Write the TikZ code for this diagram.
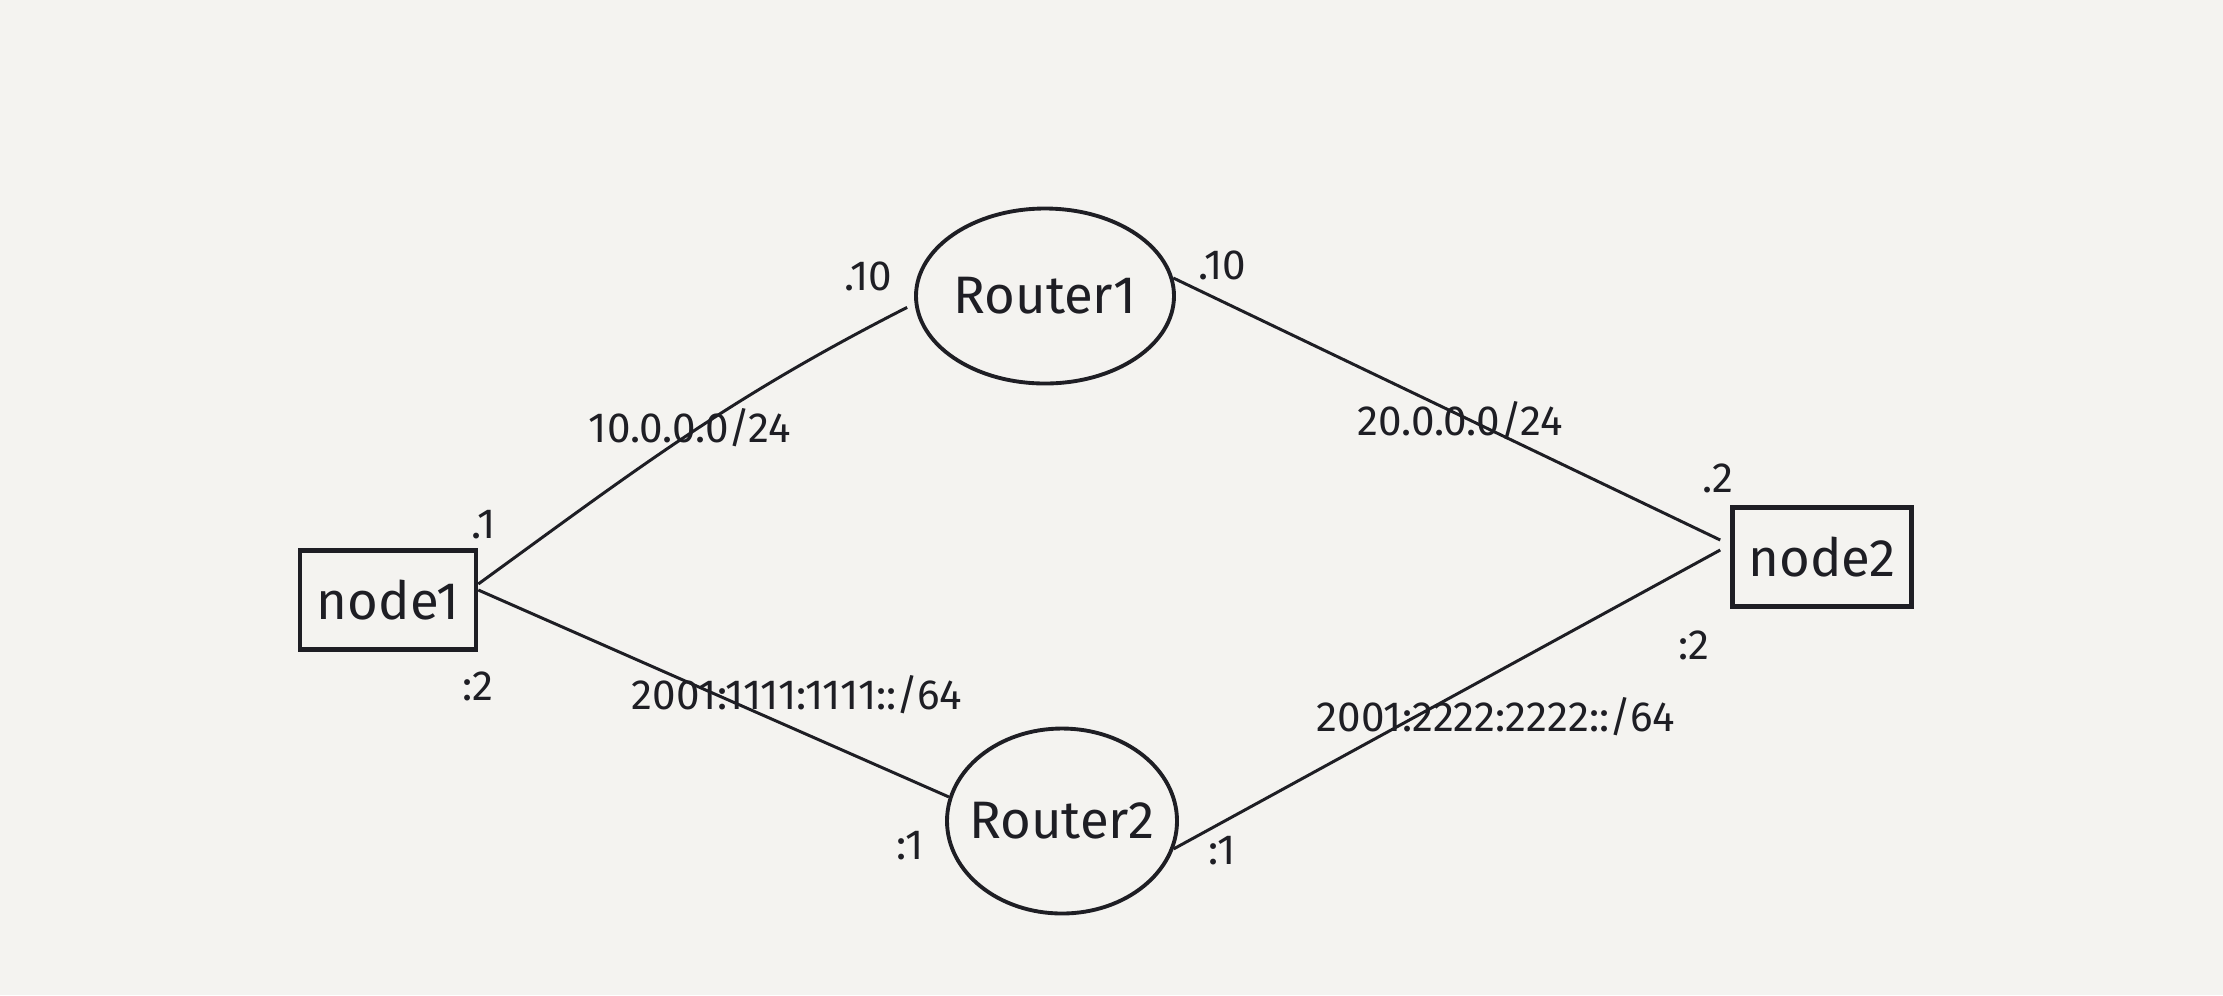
\documentclass[tikz,border=0pt]{standalone}
\usepackage{fontspec}
\setmainfont{Fira Sans}
\usepackage{tikz}
\usetikzlibrary{shapes.geometric, positioning, calc}

\definecolor{paper}{HTML}{F4F3F0}
\definecolor{ink}{HTML}{1E1E24}

\begin{document}
\begin{tikzpicture}[
    font=\fontsize{13}{15}\selectfont, text=ink,
    hostbox/.style={draw=ink, line width=1.3pt, rectangle, minimum height=0.99cm, inner sep=0pt},
    routerbox/.style={draw=ink, line width=1.1pt, ellipse, inner sep=-6pt},
    link/.style={draw=ink, line width=0.85pt},
    addr/.style={font=\fontsize{12}{14}\selectfont, inner sep=0pt}
  ]
  \fill[paper] (0,0) rectangle (22.23,-9.95);
  \useasboundingbox (0,0) rectangle (22.23,-9.95);

  % Hosts and routers
  \node[hostbox, minimum width=1.76cm] (node1) at (3.88, -6.00) {\fontsize{15}{17}\selectfont node1};
  \node[hostbox, minimum width=1.79cm] (node2) at (18.22, -5.57) {\fontsize{15}{17}\selectfont node2};
  \node[routerbox, minimum width=2.58cm, minimum height=1.75cm] (router1) at (10.45, -2.96) {\fontsize{15}{17}\selectfont Router1};
  \node[routerbox, minimum width=2.30cm, minimum height=1.85cm] (router2) at (10.62, -8.21) {\fontsize{15}{17}\selectfont Router2};

  % Links
  \draw[link] ([yshift=0.16cm]node1.east) to[out=36, in=207] ([xshift=-0.08cm]router1.185);
  \draw[link] ([yshift=0.1cm]node1.east) -- (router2.168);
  \draw[link] (router1.8) -- ([xshift=-0.1cm, yshift=0.17cm]node2.west);
  \draw[link] (router2.-14) -- ([xshift=-0.1cm, yshift=0.07cm]node2.west);

  % IPv4 addresses
  \node[addr] (net10) at (6.90, -4.28) {10.0.0.0/24};
  \node[addr] (net20) at (14.60, -4.21) {20.0.0.0/24};
  \node[addr] (r1w) at (8.68, -2.76) {.10};
  \node[addr] (r1e) at (12.22, -2.65) {.10};
  \node[addr] (n1v4) at (4.84, -5.25) {.1};
  \node[addr] (n2v4) at (17.18, -4.78) {.2};

  % IPv6 addresses
  \node[addr] (net1111) at (7.97, -6.95) {2001:1111:1111::/64};
  \node[addr] (net2222) at (14.96, -7.17) {2001:2222:2222::/64};
  \node[addr] (r2w) at (9.10, -8.46) {:1};
  \node[addr] (r2e) at (12.22, -8.51) {:1};
  \node[addr] (n1v6) at (4.78, -6.86) {:2};
  \node[addr] (n2v6) at (16.94, -6.45) {:2};
\end{tikzpicture}
\end{document}
